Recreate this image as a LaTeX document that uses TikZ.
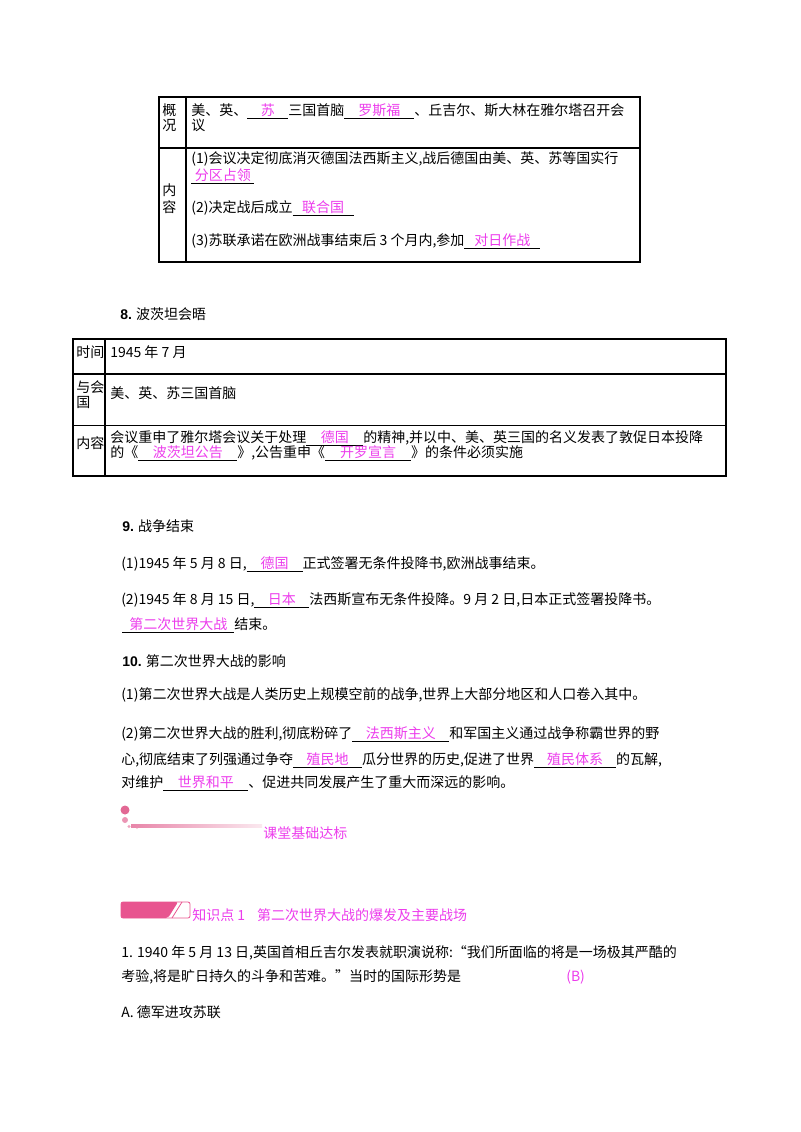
\documentclass[tikz,border=0pt]{standalone}
\usepackage{fontspec}
\setmainfont{Noto Sans CJK SC}
\newfontfamily\latfont{Liberation Sans}
\usepackage{tikz}

\definecolor{anspink}{RGB}{236,60,236}
\definecolor{barpink}{RGB}{232,84,143}
\definecolor{dotpink}{RGB}{226,104,148}

\newlength\pxu
\setlength\pxu{0.75pt}
\newcommand\ans[2]{\underline{\makebox[#1\pxu]{\textcolor{anspink}{#2}}}}
\newcommand\numhead[1]{{\latfont\bfseries #1}}

\begin{document}
\begin{tikzpicture}[x=0.75pt,y=-0.75pt,
    every node/.style={inner sep=0pt,anchor=base west,font=\fontsize{10.5}{13}\selectfont},
    frame/.style={line width=1.5pt},
    rule/.style={line width=1pt},
    hair/.style={line width=0.6pt},
    pinktxt/.style={text=anspink}]
  \useasboundingbox (0,0) rectangle (800,1132);
  % table of the Yalta conference
  \draw[frame] (159,97) rectangle (640,262);
  \draw[rule] (186,97) -- (186,262);
  \draw[rule] (159,148) -- (640,148);
  \node (gai)   at (162,115) {概};
  \node (kuang) at (162,130) {况};
  \node (ya1)   at (191,115) {美、英、\ans{41}{苏}三国首脑\ans{70}{罗斯福}、丘吉尔、斯大林在雅尔塔召开会};
  \node (ya2)   at (191,130) {议};
  \node (nei)   at (162,195) {内};
  \node (rong)  at (162,212) {容};
  \node (yc1)   at (191,163) {(1)会议决定彻底消灭德国法西斯主义,战后德国由美、英、苏等国实行};
  \node (yc1b)  at (191,180) {\ans{63}{分区占领}};
  \node (yc2)   at (191,212) {(2)决定战后成立\ans{61}{联合国}};
  \node (yc3)   at (191,245) {(3)苏联承诺在欧洲战事结束后 3 个月内,参加\ans{76}{对日作战}};
  % Potsdam
  \node (h8) at (120,319) {\numhead{8.} 波茨坦会晤};
  \draw[frame] (73,339) rectangle (726,476);
  \draw[frame] (105,339) -- (105,476);
  \draw[frame] (73,374) -- (726,374);
  \draw[hair] (73,425) -- (726,425);
  \node (shijian) at (76,357)  {时间};
  \node (time)    at (110,357) {1945 年 7 月};
  \node (yuhui)   at (76,392)  {与会};
  \node (guo)     at (76,407)  {国};
  \node (party)   at (110,398) {美、英、苏三国首脑};
  \node (neirong) at (76,448)  {内容};
  \node (pc1) at (110,442) {会议重申了雅尔塔会议关于处理\ans{57}{德国}的精神,并以中、美、英三国的名义发表了敦促日本投降};
  \node (pc2) at (110,457) {的《\ans{99}{波茨坦公告}》,公告重申《\ans{86}{开罗宣言}》的条件必须实施};
  % end of the war
  \node (h9)  at (122,531) {\numhead{9.} 战争结束};
  \node (e1)  at (121,568) {(1)1945 年 5 月 8 日,\ans{56}{德国}正式签署无条件投降书,欧洲战事结束。};
  \node (e2)  at (121,604) {(2)1945 年 8 月 15 日,\ans{55}{日本}法西斯宣布无条件投降。9 月 2 日,日本正式签署投降书。};
  \node (e2b) at (122,629) {\ans{112}{第二次世界大战}结束。};
  % influence
  \node (h10) at (122,666) {\numhead{10.} 第二次世界大战的影响};
  \node (f1)  at (121,699) {(1)第二次世界大战是人类历史上规模空前的战争,世界上大部分地区和人口卷入其中。};
  \node (f2a) at (121,738) {(2)第二次世界大战的胜利,彻底粉碎了\ans{97}{法西斯主义}和军国主义通过战争称霸世界的野};
  \node (f2b) at (121,764) {心,彻底结束了列强通过争夺\ans{69}{殖民地}瓜分世界的历史,促进了世界\ans{82}{殖民体系}的瓦解,};
  \node (f2c) at (121,787) {对维护\ans{85}{世界和平}、促进共同发展产生了重大而深远的影响。};
  % pink banner
  \fill[dotpink] (125,810) circle (4.5);
  \fill[dotpink!70] (125,820) circle (3);
  \fill[dotpink!60] (129,826.5) circle (1.6);
  \fill[dotpink!40] (137,828) circle (1);
  \fill[dotpink!40] (144,827) circle (0.8);
  \shade[left color=dotpink!80,right color=dotpink!15] (131,824.5) rectangle (262,827);
  \node[pinktxt] (ketang) at (263,838) {课堂基础达标};
  % knowledge point bar
  \draw[barpink,line width=0.6pt,rounded corners=1.5] (121,902) rectangle (190,918);
  \fill[barpink,rounded corners=1.5] (121,902) -- (178,902) -- (168,918) -- (121,918) -- cycle;
  \draw[barpink,line width=0.6pt] (182,902) -- (172,918);
  \node[pinktxt] (zsd) at (192,920) {知识点 1\hspace{12\pxu}第二次世界大战的爆发及主要战场};
  % question 1
  \node (q1a) at (121,957) {1. 1940 年 5 月 13 日,英国首相丘吉尔发表就职演说称:“我们所面临的将是一场极其严酷的};
  \node (q1b) at (121,981) {考验,将是旷日持久的斗争和苦难。”当时的国际形势是};
  \node[pinktxt] (q1ans) at (566,981) {(B)};
  \node (q1A) at (121,1017) {A. 德军进攻苏联};
\end{tikzpicture}
\end{document}
